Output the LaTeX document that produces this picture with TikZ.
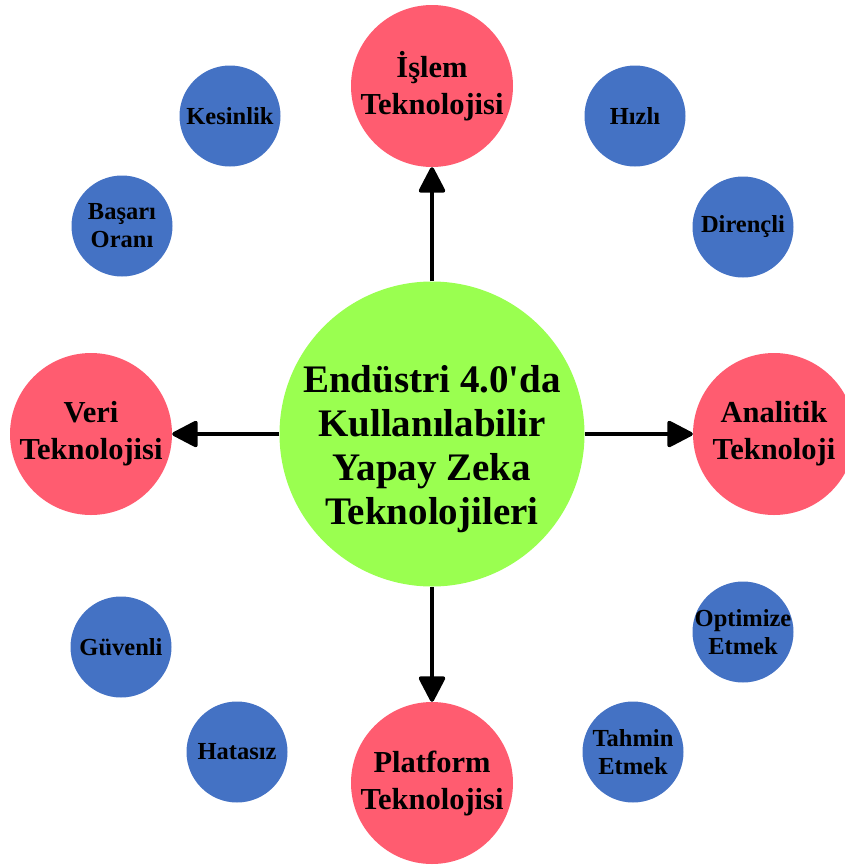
\documentclass[tikz,border=0pt]{standalone}
\usepackage{fontspec}
\setmainfont{Liberation Serif}
\usetikzlibrary{arrows.meta,positioning}

\definecolor{hubgreen}{RGB}{154,255,80}
\definecolor{techred}{RGB}{255,92,112}
\definecolor{propblue}{RGB}{68,114,196}

\begin{document}
\begin{tikzpicture}[x=1pt,y=-1pt,
    hub/.style={circle,fill=hubgreen,minimum size=305pt,inner sep=0pt},
    hubtxt/.style={align=center,font=\bfseries\fontsize{39}{44}\selectfont,yshift=-15pt},
    tech/.style={circle,fill=techred,minimum size=162pt,inner sep=0pt,align=center,
        font=\bfseries\fontsize{30.5}{37}\selectfont},
    prop/.style={circle,fill=propblue,minimum size=101pt,inner sep=-10pt,align=center,
        font=\bfseries\fontsize{24.5}{28}\selectfont},
    arrow/.style={line width=4pt,-{Triangle[length=28pt,width=28pt,round]}}]
    \useasboundingbox (0,0) rectangle (845,865);
    % center and the four technologies
    \node[hub,label={[hubtxt]center:Endüstri 4.0\textquotesingle da\\Kullanılabilir\\Yapay Zeka\\Teknolojileri}] (hub) at (432,434) {};
    \node[tech] (islem) at (432,86) {İşlem\\Teknolojisi};
    \node[tech] (veri) at (91,434) {Veri\\Teknolojisi};
    \node[tech] (analitik) at (774,434) {Analitik\\Teknoloji};
    \node[tech] (platform) at (432,783) {Platform\\Teknolojisi};
    \draw[arrow] (hub) -- (islem);
    \draw[arrow] (hub) -- (veri);
    \draw[arrow] (hub) -- (analitik);
    \draw[arrow] (hub) -- (platform);
    % properties
    \node[prop] (kesinlik) at (230,116) {Kesinlik};
    \node[prop] (basari) at (122,226) {Başarı\\Oranı};
    \node[prop] (hizli) at (635,116) {Hızlı};
    \node[prop] (direncli) at (743,227) {Dirençli};
    \node[prop] (guvenli) at (121,647) {Güvenli};
    \node[prop] (hatasiz) at (237,752) {Hatasız};
    \node[prop] (optimize) at (743,632) {Optimize\\Etmek};
    \node[prop] (tahmin) at (633,752) {Tahmin\\Etmek};
\end{tikzpicture}
\end{document}
